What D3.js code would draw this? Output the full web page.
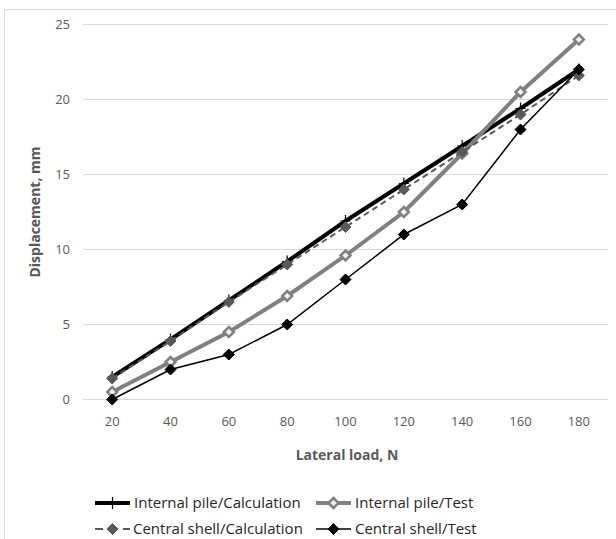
<!DOCTYPE html>
<html>
	<head>
		<meta charset="utf-8">
		<title>Displacement vs lateral load</title>
		<script src="https://d3js.org/d3.v7.min.js"></script>
		<style>
			html, body { margin: 0; background: #fff; }
			svg { display: block; font-family: "Open Sans", sans-serif; }
			.tick-label { fill: #595959; font-size: 13px; }
			.axis-title { fill: #595959; font-size: 14px; font-weight: bold; }
			.legend-text { fill: #262626; font-size: 15px; }
		</style>
	</head>
	<body>
		<svg id="chart" width="616" height="539"></svg>
		<script>
			// data
			const loads = [20, 40, 60, 80, 100, 120, 140, 160, 180];
			const pileCalc = [1.5, 4.0, 6.6, 9.2, 11.9, 14.4, 16.9, 19.4, 22.0];
			const pileTest = [0.5, 2.5, 4.5, 6.9, 9.6, 12.5, 16.4, 20.5, 24.0];
			const shellCalc = [1.4, 3.9, 6.5, 9.0, 11.5, 14.0, 16.5, 19.0, 21.6];
			const shellTest = [0, 2, 3, 5, 8, 11, 13, 18, 22];
			const yTicks = [0, 5, 10, 15, 20, 25];

			const series = [
				{name: "Internal pile/Calculation", values: pileCalc, color: "#000", width: 4, dash: null, marker: "plus"},
				{name: "Internal pile/Test", values: pileTest, color: "#808080", width: 4, dash: null, marker: "hollow"},
				{name: "Central shell/Calculation", values: shellCalc, color: "#595959", width: 2, dash: "6,4", marker: "diamond"},
				{name: "Central shell/Test", values: shellTest, color: "#000", width: 1.5, dash: null, marker: "diamond"}
			];

			const svg = d3.select("#chart");

			// outer frame of the chart area
			svg.append("rect")
				.attr("x", 4.5).attr("y", 9.5)
				.attr("width", 640).attr("height", 560)
				.attr("fill", "none").attr("stroke", "#d9d9d9");

			const x = d3.scaleBand().domain(loads).range([83, 608]);
			const y = d3.scaleLinear().domain([0, 25]).range([399.5, 24.5]);
			const cx = d => x(d) + x.bandwidth() / 2;

			// gridlines
			svg.append("g").selectAll("line")
				.data(yTicks)
				.enter().append("line")
					.attr("x1", 83).attr("x2", 608)
					.attr("y1", d => y(d)).attr("y2", d => y(d))
					.attr("stroke", "#d9d9d9").attr("stroke-width", 1);

			// y labels
			svg.append("g").selectAll("text")
				.data(yTicks)
				.enter().append("text")
					.attr("class", "tick-label")
					.attr("x", 70).attr("y", d => y(d))
					.attr("dy", "0.35em")
					.attr("text-anchor", "end")
					.text(d => d);

			// x labels
			svg.append("g").selectAll("text")
				.data(loads)
				.enter().append("text")
					.attr("class", "tick-label")
					.attr("x", d => cx(d)).attr("y", 426)
					.attr("text-anchor", "middle")
					.text(d => d);

			svg.append("text")
				.attr("class", "axis-title")
				.attr("x", 347).attr("y", 460)
				.attr("text-anchor", "middle")
				.text("Lateral load, N");

			svg.append("text")
				.attr("class", "axis-title")
				.attr("transform", "translate(40,212) rotate(-90)")
				.attr("text-anchor", "middle")
				.text("Displacement, mm");

			const line = d3.line()
				.x((d, i) => cx(loads[i]))
				.y(d => y(d));

			// square diamond, like the spreadsheet marker
			const diamond = (px, py, r) =>
				`M${px},${py - r}L${px + r},${py}L${px},${py + r}L${px - r},${py}Z`;

			function drawMarker(sel, s, px, py)
			{
				if (s.marker === "plus")
				{
					sel.append("path")
						.attr("d", `M${px - 5},${py}H${px + 5}M${px},${py - 6}V${py + 6}`)
						.attr("stroke", "#000").attr("stroke-width", 1.2);
				}
				else if (s.marker === "hollow")
				{
					sel.append("path")
						.attr("d", diamond(px, py, 5))
						.attr("fill", "#eef2f7").attr("stroke", "#808080").attr("stroke-width", 2.5);
				}
				else
				{
					sel.append("path")
						.attr("d", diamond(px, py, 5.5))
						.attr("fill", s.color).attr("stroke", s.color).attr("stroke-width", 1);
				}
			}

			// lines and markers, drawn in series order
			series.forEach(s => {
				const g = svg.append("g");
				g.append("path")
					.datum(s.values)
					.attr("d", line)
					.attr("fill", "none")
					.attr("stroke", s.color)
					.attr("stroke-width", s.width)
					.attr("stroke-dasharray", s.dash);
				s.values.forEach((v, i) => drawMarker(g, s, cx(loads[i]), y(v)));
			});

			// legend
			const legendPos = [
				{x: 95, y: 508}, {x: 316, y: 508},
				{x: 95, y: 534}, {x: 316, y: 534}
			];
			series.forEach((s, i) => {
				const p = legendPos[i];
				const g = svg.append("g");
				g.append("line")
					.attr("x1", p.x).attr("x2", p.x + 35)
					.attr("y1", p.y - 5).attr("y2", p.y - 5)
					.attr("stroke", s.color)
					.attr("stroke-width", s.width)
					.attr("stroke-dasharray", s.dash ? "8,6" : null);
				drawMarker(g, s, p.x + 17.5, p.y - 5);
				g.append("text")
					.attr("class", "legend-text")
					.attr("x", p.x + (s.dash ? 38 : 39)).attr("y", p.y)
					.text(s.name);
			});
		</script>
	</body>
</html>
